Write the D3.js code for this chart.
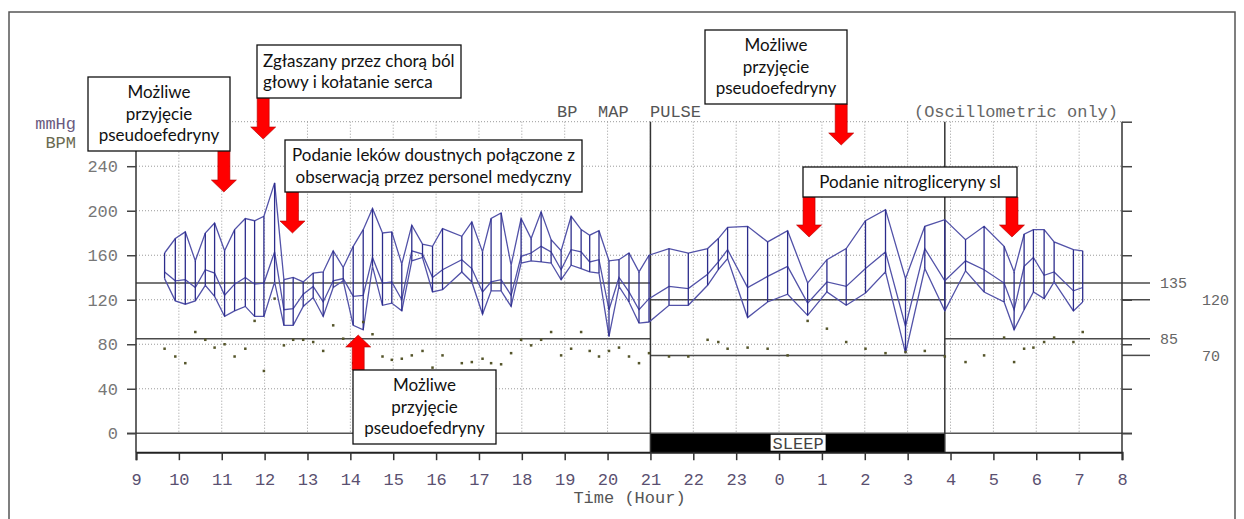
<!DOCTYPE html>
<html>
<head>
<meta charset="utf-8">
<script src="https://cdn.jsdelivr.net/npm/d3@7/dist/d3.min.js"></script>
<style>
  body { margin: 0; background: #fff; }
  svg text { font-family: "Liberation Mono", "DejaVu Sans Mono", monospace; }
  .note text { font-family: Lato, "Open Sans", sans-serif; font-size: 17px; fill: #111; }
</style>
</head>
<body>
<div id="chart"></div>
<script>
// readings (clock time, mmHg / bpm)
const times = ["9:40","9:55","10:09","10:23","10:37","10:50","11:04","11:18","11:33","11:46",
  "11:59","12:14","12:27","12:40","12:54","13:08","13:22","13:36","13:50","14:04",
  "14:18","14:31","14:45","14:58","15:12","15:26","15:41","15:55","16:09","16:36",
  "16:50","17:05","17:17","17:31","17:45","17:59","18:13","18:27","18:41","18:55",
  "19:09","19:23","19:35","19:48","20:02","20:16","20:30","20:44","20:58","21:26",
  "21:53","22:20","22:35","22:48","23:16","23:44","0:12","0:40","1:07","1:34",
  "2:01","2:29","2:57","3:24","3:52","4:21","4:47","5:15","5:29","5:43",
  "5:56","6:11","6:25","6:52","7:05"];
const systolic = [162,175,181,155,180,189,164,183,193,191,
  195,225,138,140,136,144,145,164,149,168,
  183,202,180,181,152,187,170,168,184,177,
  190,163,193,198,151,193,175,199,174,164,
  195,183,178,182,155,156,162,145,160,166,
  162,166,175,185,186,172,182,135,156,166,
  191,201,139,186,192,174,186,168,145,179,
  183,183,172,165,164];
const meanPressure = [145,137,138,131,147,144,124,134,140,134,
  135,163,111,112,125,132,118,137,139,123,
  124,158,135,136,120,164,161,140,147,156,
  148,127,136,138,124,159,162,168,163,147,
  165,163,154,156,111,140,127,111,121,132,
  130,143,154,165,131,141,150,117,136,132,
  148,163,96,166,137,155,147,135,111,150,
  158,142,145,128,131];
const diastolic = [139,119,116,119,133,123,105,110,114,105,
  105,136,97,97,114,122,105,131,137,97,
  93,150,115,117,110,155,158,127,129,145,
  136,107,128,128,114,153,155,154,153,138,
  151,148,145,144,87,132,118,99,100,115,
  115,133,147,157,104,118,125,106,127,115,
  126,145,72,148,110,146,127,118,93,111,
  127,121,136,110,118];
const pulse = [76,69,63,91,84,77,80,69,76,101,
  56,121,79,84,84,82,74,97,85,63,
  100,89,69,66,67,70,74,59,70,63,
  64,67,63,62,72,84,79,84,91,70,
  76,91,74,69,74,77,69,63,72,69,
  69,84,82,76,77,76,70,101,94,82,
  76,72,73,74,69,64,70,86,64,76,
  77,82,86,82,91];

const yTicks = [0, 40, 80, 120, 160, 200, 240];
const gridTicks = [40, 80, 120, 160, 200, 240, 280];
const xTickLabels = ["9","10","11","12","13","14","15","16","17","18","19","20",
  "21","22","23","0","1","2","3","4","5","6","7","8"];
const dayLimits = [135, 85];
const nightLimits = [120, 70];
const sleepStart = "21:00";
const sleepEnd = "3:52";

const notes = [
  { lines: ["Możliwe", "przyjęcie", "pseudoefedryny"], at: "11:03", dir: "down" },
  { lines: ["Zgłaszany przez chorą ból", "głowy i kołatanie serca"], at: "11:58", dir: "down" },
  { lines: ["Podanie leków doustnych połączone z", "obserwacją przez personel medyczny"], at: "12:39", dir: "down" },
  { lines: ["Możliwe", "przyjęcie", "pseudoefedryny"], at: "14:11", dir: "up" },
  { lines: ["Możliwe", "przyjęcie", "pseudoefedryny"], at: "1:27", dir: "down" },
  { lines: ["Podanie nitrogliceryny sl"], at: ["0:42", "5:26"], dir: "down" }
];
// box layout for each note: x, y, w, h, text anchor, arrow start / tip
const noteLayout = [
  { box: [88, 77, 142, 74], anchor: "middle", from: 151, tip: 192 },
  { box: [257, 45, 204, 53], anchor: "start", from: 98, tip: 139 },
  { box: [285, 140, 297, 52], anchor: "middle", from: 192, tip: 233 },
  { box: [353, 370, 143, 74], anchor: "middle", from: 370, tip: 335 },
  { box: [705, 30, 142, 74], anchor: "middle", from: 104, tip: 145 },
  { box: [803, 167, 214, 30], anchor: "middle", from: 197, tip: 237 }
];

const toHour = t => {
  const [hh, mm] = t.split(":").map(Number);
  const h = hh + mm / 60;
  return h < 9 ? h + 24 : h;
};

const readings = times.map((t, i) => ({
  h: toHour(t),
  sys: systolic[i],
  map: meanPressure[i],
  dia: diastolic[i],
  pulse: pulse[i]
}));

const width = 1244;
const height = 519;
const plot = { left: 136, right: 1122, top: 121.7, bottom: 452.2 };

const svg = d3.select("#chart")
  .append("svg")
  .attr("width", width)
  .attr("height", height);

const x = d3.scaleLinear().domain([9, 32]).range([plot.left, plot.right]);
const y = d3.scaleLinear().domain([-17, 280]).range([plot.bottom, plot.top]);

// outer frame
svg.append("rect")
  .attr("x", 9).attr("y", 12)
  .attr("width", 1226).attr("height", 520)
  .attr("fill", "none").attr("stroke", "#555").attr("stroke-width", 1.5);

// dotted grid
const grid = svg.append("g").attr("stroke", "#9a9a9a").attr("stroke-dasharray", "1,2");
grid.selectAll(".gy").data(gridTicks).enter().append("line")
  .attr("x1", plot.left).attr("x2", plot.right)
  .attr("y1", d => y(d)).attr("y2", d => y(d));
grid.selectAll(".gx").data(d3.range(10, 32)).enter().append("line")
  .attr("x1", d => x(d)).attr("x2", d => x(d))
  .attr("y1", plot.top).attr("y2", y(0));

// sleep band
const s0 = x(toHour(sleepStart));
const s1 = x(toHour(sleepEnd));
svg.append("rect")
  .attr("x", s0).attr("y", y(0))
  .attr("width", s1 - s0).attr("height", plot.bottom - y(0))
  .attr("fill", "#000");
const sleepLabel = svg.append("text")
  .attr("x", (s0 + s1) / 2 + 0.5).attr("y", (y(0) + plot.bottom) / 2)
  .attr("dy", "0.35em").attr("text-anchor", "middle")
  .attr("font-size", 17).attr("fill", "#444")
  .text("SLEEP");
const sb = sleepLabel.node().getBBox();
svg.insert("rect", "text")
  .attr("x", sb.x - 2).attr("y", y(0) + 1.5)
  .attr("width", sb.width + 4).attr("height", plot.bottom - y(0) - 3)
  .attr("fill", "#fff");

// zero line
svg.append("line")
  .attr("x1", plot.left - 9).attr("x2", plot.right + 10)
  .attr("y1", y(0)).attr("y2", y(0))
  .attr("stroke", "#555").attr("stroke-width", 1.5);

// limit lines (day / night)
const limits = svg.append("g").attr("stroke", "#4a4a4a").attr("stroke-width", 1.5);
dayLimits.forEach(v => {
  limits.append("line").attr("x1", x(9)).attr("x2", s0).attr("y1", y(v)).attr("y2", y(v));
  limits.append("line").attr("x1", s1).attr("x2", plot.right + 28).attr("y1", y(v)).attr("y2", y(v));
});
nightLimits.forEach(v => {
  limits.append("line").attr("x1", s0).attr("x2", s1).attr("y1", y(v)).attr("y2", y(v));
  limits.append("line").attr("x1", plot.right).attr("x2", plot.right + 28).attr("y1", y(v)).attr("y2", y(v));
});
svg.selectAll(".daylab").data(dayLimits).enter().append("text")
  .attr("x", 1160).attr("y", d => y(d)).attr("dy", "0.35em")
  .attr("font-family", "DejaVu Sans Mono").attr("font-size", 15).attr("fill", "#666")
  .text(d => d);
svg.selectAll(".nightlab").data(nightLimits).enter().append("text")
  .attr("x", 1202).attr("y", d => y(d)).attr("dy", "0.35em")
  .attr("font-family", "DejaVu Sans Mono").attr("font-size", 15).attr("fill", "#666")
  .text(d => d);

// sleep boundaries
svg.selectAll(".bound").data([s0, s1]).enter().append("line")
  .attr("x1", d => d).attr("x2", d => d)
  .attr("y1", plot.top).attr("y2", plot.bottom)
  .attr("stroke", "#333").attr("stroke-width", 1.5);

// blood pressure traces
const line = key => d3.line().x(d => x(d.h)).y(d => y(d[key]));
const bp = svg.append("g").attr("fill", "none");
["sys", "map", "dia"].forEach(k => {
  bp.append("path").datum(readings)
    .attr("d", line(k))
    .attr("stroke", "#5252a8").attr("stroke-width", 1.3);
});
bp.selectAll(".bar").data(readings).enter().append("line")
  .attr("x1", d => x(d.h)).attr("x2", d => x(d.h))
  .attr("y1", d => y(d.sys)).attr("y2", d => y(d.dia))
  .attr("stroke", "#2c2c8c").attr("stroke-width", 1.3);

// pulse
svg.append("g").selectAll("rect").data(readings).enter().append("rect")
  .attr("x", d => x(d.h) - 1.25).attr("y", d => y(d.pulse) - 1.25)
  .attr("width", 2.5).attr("height", 2.5)
  .attr("fill", "#55552a");

// axes
const xAxis = d3.axisBottom(x)
  .tickValues(d3.range(9, 33))
  .tickFormat(d => xTickLabels[d - 9])
  .tickSize(8).tickPadding(13);
const yAxis = d3.axisLeft(y)
  .tickValues(yTicks)
  .tickSize(9).tickPadding(9);
const yAxisRight = d3.axisRight(y)
  .tickValues([0].concat(gridTicks))
  .tickSize(10).tickFormat("");

const gx = svg.append("g")
  .attr("transform", `translate(0,${plot.bottom})`)
  .call(xAxis);
gx.select(".domain").attr("stroke", "#222").attr("stroke-width", 2);
gx.selectAll(".tick line").attr("stroke", "#333").attr("stroke-width", 1.5);
gx.selectAll("text").attr("font-family", null).attr("font-size", 17).attr("fill", "#5a5070");

const gy = svg.append("g")
  .attr("transform", `translate(${plot.left},0)`)
  .call(yAxis);
gy.select(".domain").attr("d", `M0,${plot.top}V${plot.bottom}`).attr("stroke", "#333").attr("stroke-width", 1.5);
gy.selectAll(".tick line").attr("stroke", "#444").attr("stroke-width", 1.5);
gy.selectAll("text").attr("font-family", null).attr("font-size", 17).attr("fill", "#777");

const gyr = svg.append("g")
  .attr("transform", `translate(${plot.right},0)`)
  .call(yAxisRight);
gyr.select(".domain").attr("d", `M0,${plot.top}V${plot.bottom}`).attr("stroke", "#333").attr("stroke-width", 1.5);
gyr.selectAll(".tick line").attr("stroke", "#444").attr("stroke-width", 1.5);

// titles
const label = (tx, ty, txt, fill, anchor) => svg.append("text")
  .attr("x", tx).attr("y", ty).attr("dy", "0.35em")
  .attr("text-anchor", anchor || "start")
  .attr("font-size", 17).attr("fill", fill).text(txt);
label(76, 123, "mmHg", "#6a5a80", "end");
label(76, 142, "BPM", "#6a6a50", "end");
label(557, 111, "BP", "#555");
label(598, 111, "MAP", "#555");
label(650, 111, "PULSE", "#555");
label(1118, 111, "(Oscillometric only)", "#666", "end");
label((plot.left + plot.right) / 2 + 0.5, 497, "Time (Hour)", "#555", "middle");

// annotations
const notesG = svg.append("g").attr("class", "note");
notes.forEach((n, i) => {
  const L = noteLayout[i];
  const [bx, by, bw, bh] = L.box;
  const ats = Array.isArray(n.at) ? n.at : [n.at];
  ats.forEach(t => {
    const cx = x(toHour(t));
    const sgn = n.dir === "down" ? 1 : -1;
    const base = L.tip - sgn * 12;
    const pts = [
      [cx - 6, L.from], [cx + 6, L.from], [cx + 6, base], [cx + 12.5, base],
      [cx, L.tip], [cx - 12.5, base], [cx - 6, base]
    ];
    notesG.append("path")
      .attr("d", "M" + pts.join("L") + "Z")
      .attr("fill", "#ff0000").attr("stroke", "#b00000").attr("stroke-width", 0.6);
  });
  notesG.append("rect")
    .attr("x", bx).attr("y", by).attr("width", bw).attr("height", bh)
    .attr("fill", "#fff").attr("stroke", "#111").attr("stroke-width", 1.3);
  const lh = 21.5;
  const ty0 = by + bh / 2 - (n.lines.length - 1) * lh / 2;
  const tx = L.anchor === "middle" ? bx + bw / 2 : bx + 6;
  n.lines.forEach((s, j) => {
    notesG.append("text")
      .attr("x", tx).attr("y", ty0 + j * lh)
      .attr("dy", "0.35em")
      .attr("text-anchor", L.anchor)
      .text(s);
  });
});
</script>
</body>
</html>
